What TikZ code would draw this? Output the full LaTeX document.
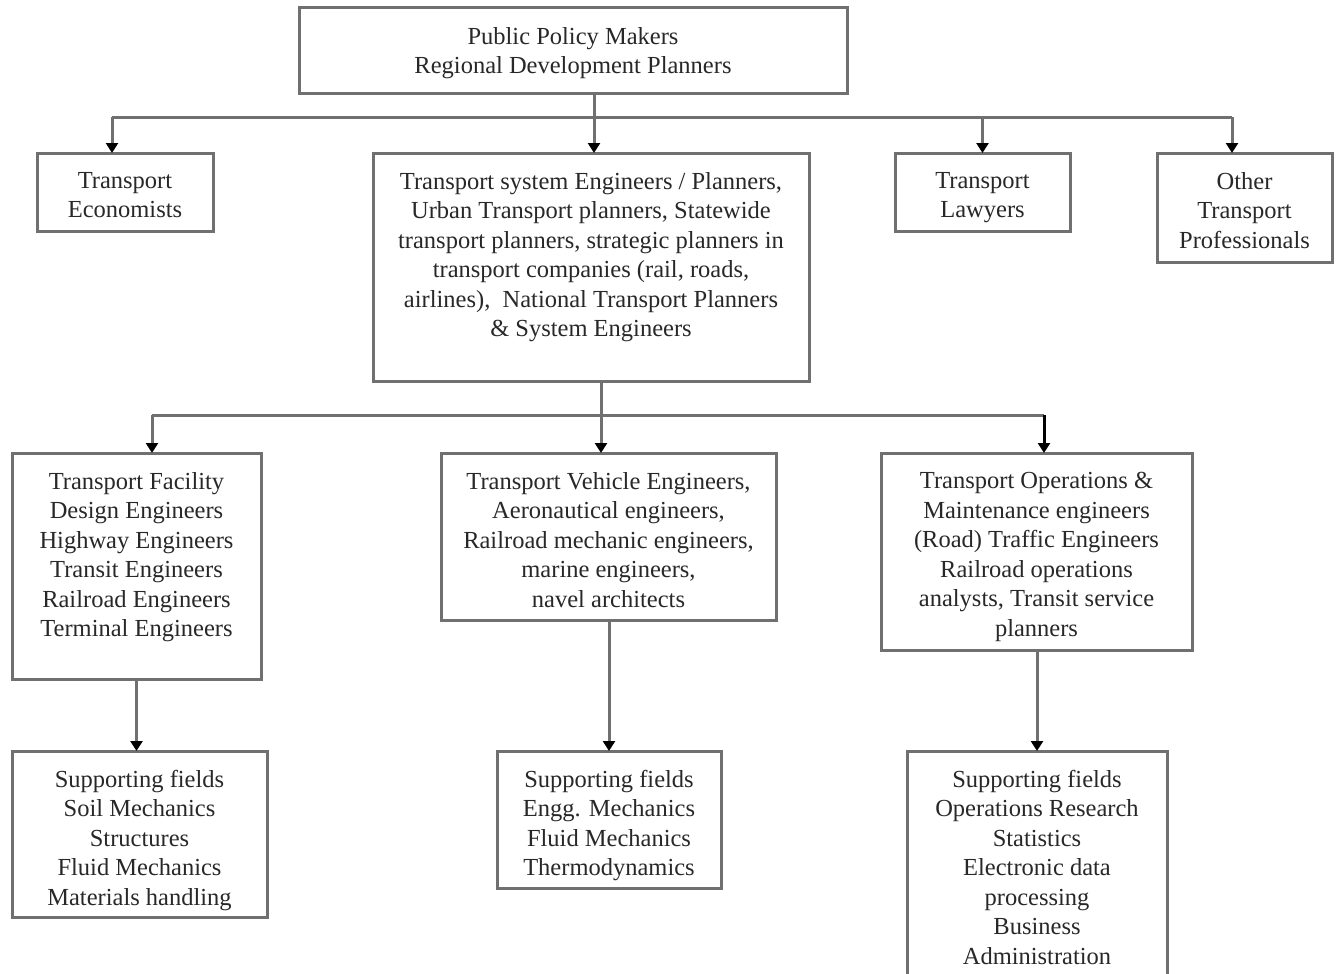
\documentclass[tikz,border=0pt]{standalone}
\usepackage{fontspec}
\setmainfont{Liberation Serif}
\usetikzlibrary{arrows.meta}
\definecolor{linegray}{RGB}{112,112,112}
\definecolor{inkgray}{RGB}{40,40,40}
\tikzset{
  box/.style={draw=linegray, line width=3pt, rectangle, inner sep=0pt, outer sep=0pt, fill=white},
  txt/.style={anchor=north, align=center, inner sep=0pt, text=inkgray,
              font=\fontsize{24.5}{29.5}\selectfont},
  conn/.style={draw=linegray, line width=3pt},
  arr/.style={conn, -{Triangle[width=12pt,length=10pt,color=black]}},
  darr/.style={draw=black, line width=3pt, -{Triangle[width=12pt,length=10pt,color=black]}}
}
\newcommand{\boxtext}[3]{\node[txt] (#1-t) at ([yshift=-19pt]#2.north) {#3};}
\begin{document}
\begin{tikzpicture}[x=1pt,y=-1pt]
\useasboundingbox (0,0) rectangle (1336,974);
\clip (0,0) rectangle (1336,974);
\fill[white] (0,0) rectangle (1336,974);

% first level
\node[box, minimum width=548, minimum height=85] (top) at (573,50.5) {};
\boxtext{top}{top}{Public Policy Makers\\Regional Development Planners}

\node[box, minimum width=176, minimum height=78] (econ) at (125,192) {};
\boxtext{econ}{econ}{Transport\\Economists}

\node[box, minimum width=436, minimum height=228] (sys) at (591,267) {};
\boxtext{sys}{sys}{Transport system Engineers / Planners,\\Urban Transport planners, Statewide\\transport planners, strategic planners in\\transport companies (rail, roads,\\airlines),~~National Transport Planners\\\& System Engineers}

\node[box, minimum width=175, minimum height=78] (law) at (982.5,192) {};
\boxtext{law}{law}{Transport\\Lawyers}

\node[box, minimum width=175, minimum height=109] (other) at (1244.5,207.5) {};
\boxtext{other}{other}{Other\\Transport\\Professionals}

% second level
\node[box, minimum width=249, minimum height=226] (fac) at (136.5,566) {};
\boxtext{fac}{fac}{Transport Facility\\Design Engineers\\Highway Engineers\\Transit Engineers\\Railroad Engineers\\Terminal Engineers}

\node[box, minimum width=335, minimum height=167] (veh) at (608.5,536.5) {};
\boxtext{veh}{veh}{Transport Vehicle Engineers,\\Aeronautical engineers,\\Railroad mechanic engineers,\\marine engineers,\\navel architects}

\node[box, minimum width=311, minimum height=197] (ops) at (1036.5,551.5) {};
\boxtext{ops}{ops}{Transport Operations \&\\Maintenance engineers\\(Road) Traffic Engineers\\Railroad operations\\analysts, Transit service\\planners}

% supporting fields
\node[box, minimum width=255, minimum height=166] (supl) at (139.5,834) {};
\boxtext{supl}{supl}{Supporting fields\\Soil Mechanics\\Structures\\Fluid Mechanics\\Materials handling}

\node[box, minimum width=224, minimum height=137] (supm) at (609,819.5) {};
\boxtext{supm}{supm}{Supporting fields\\Engg. Mechanics\\Fluid Mechanics\\Thermodynamics}

\node[box, minimum width=260, minimum height=249] (supr) at (1037,875.5) {};
\boxtext{supr}{supr}{Supporting fields\\Operations Research\\Statistics\\Electronic data\\processing\\Business\\Administration}

% distribution lines
\coordinate (busA-l) at (112,117);
\coordinate (busA-c) at (594,117);
\coordinate (busA-r) at (1232,117);
\coordinate (busB-l) at (152,415);
\coordinate (busB-c) at (601,415);
\coordinate (busB-r) at (1044,415);

\draw[conn] (busA-l) -- (busA-r);
\draw[arr] (busA-c |- top.south) -- (busA-c |- sys.north);
\draw[arr] (busA-l) -- (busA-l |- econ.north);
\draw[arr] (law.north |- busA-l) -- (law.north);
\draw[arr] (busA-r) -- (busA-r |- other.north);

\draw[conn] (busB-c |- sys.south) -- (busB-c);
\draw[conn] (busB-l) -- (busB-r);
\draw[arr] (busB-l) -- (busB-l |- fac.north);
\draw[arr] (busB-c) -- (busB-c |- veh.north);
\draw[darr] (busB-r) -- (busB-r |- ops.north);

\draw[arr] (fac.south) -- (fac.south |- supl.north);
\draw[arr] (veh.south -| supm.north) -- (supm.north);
\draw[arr] (ops.south -| supr.north) -- (supr.north);
\end{tikzpicture}
\end{document}
